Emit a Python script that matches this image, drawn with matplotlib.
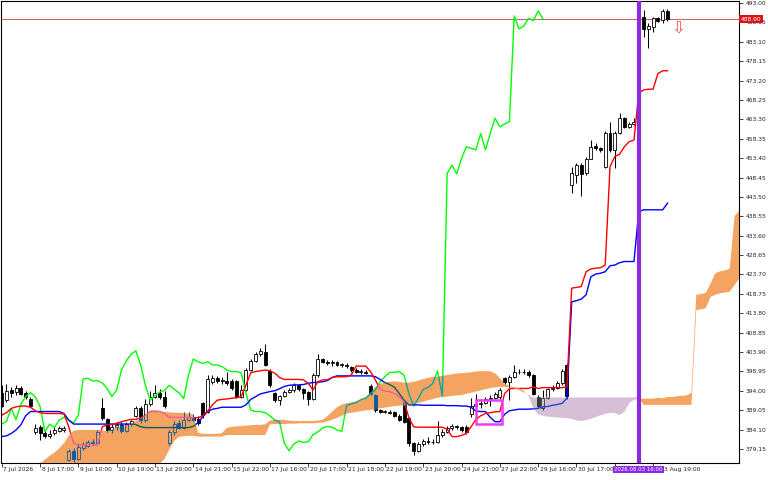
import numpy as np
import matplotlib
matplotlib.use("Agg")
import matplotlib.pyplot as plt
import matplotlib.transforms as mtransforms
from matplotlib.path import Path
from matplotlib.patches import PathPatch, Rectangle

plt.rcParams['font.family'] = ['DejaVu Sans']

# ---------------- data ----------------
opens = [393.4, 391.6, 394.3, 393.6, 394.6, 393.4, 392.0, 383.6, 384.8, 383.3,
         382.5, 383.1, 383.8, 384.0, 376.4, 378.5, 376.6, 379.5, 380.0, 380.6,
         380.6, 389.5, 386.7, 384.0, 384.8, 385.2, 383.8, 385.5, 387.5, 389.5,
         386.6, 390.5, 392.5, 393.5, 392.5, 380.6, 383.5, 385.8, 384.6, 386.5,
         387.4, 386.8, 390.8, 388.7, 396.3, 397.2, 396.5, 396.6, 396.4, 396.5,
         392.5, 394.2, 399.3, 401.6, 403.3, 404.0, 399.0, 393.5, 391.6, 392.7,
         393.7, 394.1, 395.4, 394.4, 393.6, 392.0, 398.0, 402.1, 401.4, 401.0,
         401.4, 400.6, 400.6, 400.0, 399.3, 398.9, 398.9, 395.2, 393.0, 389.1,
         388.7, 388.7, 388.6, 387.6, 391.2, 387.0, 380.6, 378.7, 380.4, 381.2,
         380.8, 381.0, 382.6, 383.5, 384.5, 384.9, 384.7, 384.8, 388.0, 390.2,
         390.7, 391.0, 391.8, 392.1, 392.4, 397.2, 396.3, 397.6, 398.7, 398.7,
         398.9, 398.0, 392.5, 389.6, 392.1, 394.4, 394.8, 395.9, 400.5, 446.5,
         449.1, 451.6, 449.5, 453.3, 456.6, 455.9, 451.2, 459.7, 455.5, 459.7,
         463.6, 461.3, 462.1, 462.7, 489.5, 486.3, 487.0, 489.1, 488.7, 491.0]
highs = [395.5, 395.7, 395.0, 395.5, 395.2, 394.0, 392.5, 385.5, 385.3, 384.0,
         384.0, 385.0, 385.0, 385.0, 379.2, 379.5, 380.5, 381.0, 381.5, 381.6,
         384.0, 392.1, 387.0, 385.5, 386.0, 386.0, 386.0, 386.5, 390.2, 390.0,
         392.0, 394.0, 395.5, 394.5, 394.0, 384.0, 386.3, 386.5, 388.5, 388.5,
         388.0, 387.5, 391.2, 398.0, 398.0, 397.8, 397.5, 398.8, 397.0, 396.8,
         395.5, 399.8, 402.0, 403.8, 405.0, 405.9, 399.5, 393.8, 393.0, 394.3,
         394.8, 395.9, 395.7, 394.7, 394.0, 398.5, 403.4, 402.3, 401.8, 401.9,
         401.6, 401.0, 401.0, 400.3, 399.8, 399.5, 399.3, 395.7, 393.3, 389.4,
         389.2, 389.0, 388.8, 388.0, 391.6, 387.3, 381.0, 380.9, 381.7, 382.2,
         381.6, 386.4, 384.2, 385.0, 385.5, 385.3, 385.0, 385.2, 392.1, 393.3,
         391.8, 392.5, 392.8, 393.8, 394.6, 397.6, 397.9, 400.6, 399.5, 399.6,
         399.2, 398.3, 392.8, 394.3, 394.8, 395.5, 396.5, 399.6, 401.2, 451.2,
         452.1, 452.1, 453.8, 458.0, 457.2, 456.3, 460.2, 462.7, 460.2, 464.8,
         464.0, 462.7, 463.6, 490.5, 491.2, 487.8, 489.5, 489.5, 491.4, 491.4]
lows = [389.8, 391.2, 392.5, 393.0, 392.8, 392.0, 389.8, 383.0, 381.4, 382.0,
        382.0, 382.8, 383.5, 383.6, 376.0, 375.8, 376.3, 379.0, 379.6, 380.2,
        380.3, 386.5, 383.5, 383.3, 384.0, 383.3, 383.5, 384.9, 387.2, 385.8,
        386.0, 390.2, 392.2, 392.0, 389.6, 380.2, 382.8, 384.3, 384.3, 386.2,
        386.2, 385.3, 387.0, 388.2, 395.8, 396.0, 395.8, 395.5, 394.2, 392.2,
        392.2, 394.0, 399.0, 401.3, 403.0, 400.2, 395.0, 391.2, 390.4, 392.3,
        393.4, 393.8, 394.0, 392.0, 390.4, 391.7, 397.6, 401.0, 400.6, 400.3,
        400.2, 400.0, 399.8, 398.9, 398.5, 398.4, 398.2, 393.0, 388.7, 388.3,
        388.3, 388.0, 387.2, 386.2, 385.8, 380.0, 377.6, 378.3, 380.0, 380.4,
        380.4, 380.7, 382.2, 383.1, 384.1, 384.3, 383.6, 383.0, 387.3, 389.5,
        389.5, 390.6, 390.0, 391.8, 392.0, 395.8, 391.6, 397.3, 398.2, 398.4,
        397.6, 392.8, 389.6, 389.1, 391.8, 394.0, 394.5, 395.6, 391.8, 444.4,
        447.0, 443.6, 449.1, 453.1, 455.5, 455.0, 450.8, 455.0, 450.8, 459.6,
        461.0, 461.0, 461.9, 462.0, 484.4, 481.4, 485.7, 488.2, 488.0, 488.5]
closes = [390.1, 394.0, 393.5, 394.6, 393.3, 392.5, 390.1, 384.6, 383.1, 382.5,
          383.0, 384.0, 384.4, 384.4, 378.6, 376.6, 379.7, 380.3, 380.8, 381.0,
          383.5, 387.0, 384.0, 384.8, 385.2, 383.8, 385.5, 386.2, 389.5, 386.6,
          390.5, 392.5, 393.5, 392.5, 390.0, 383.5, 385.5, 384.6, 386.5, 387.2,
          386.6, 385.8, 387.7, 397.0, 397.2, 396.5, 396.6, 396.0, 394.6, 392.5,
          394.2, 399.3, 401.6, 403.3, 404.2, 400.6, 395.4, 391.6, 392.7, 393.7,
          394.1, 395.4, 394.4, 393.5, 392.0, 398.0, 402.1, 401.4, 401.0, 401.4,
          400.6, 400.6, 400.2, 399.3, 398.9, 398.9, 398.6, 393.3, 389.1, 388.7,
          388.7, 388.4, 387.6, 386.5, 386.1, 380.6, 378.7, 380.4, 381.2, 380.8,
          381.0, 382.8, 383.5, 384.5, 384.9, 384.7, 384.0, 383.6, 390.2, 390.7,
          391.0, 391.8, 392.1, 393.2, 394.2, 396.3, 397.6, 398.7, 398.7, 398.9,
          398.0, 393.3, 390.1, 392.1, 394.4, 394.8, 395.9, 399.1, 392.7, 449.5,
          451.6, 449.4, 453.3, 456.3, 455.9, 455.5, 459.7, 455.5, 459.7, 463.6,
          461.4, 462.1, 462.7, 489.7, 486.4, 487.1, 489.1, 488.5, 491.0, 488.9]

tenkan = [387.8, 388.4, 389.5, 389.9, 390.1, 390.1, 389.8, 388.9, 388.4, 388.2,
          388.2, 388.2, 388.2, 388.1, 384.8, 380.6, 380.2, 380.2, 380.2, 380.2,
          380.2, 384.8, 385.3, 385.4, 385.7, 386.1, 386.4, 386.7, 386.7, 387.1,
          387.7, 388.7, 388.7, 388.7, 388.2, 387.2, 387.2, 387.2, 387.2, 387.2,
          387.1, 387.1, 387.6, 388.8, 390.4, 391.6, 391.8, 391.9, 392.1, 392.2,
          392.5, 395.5, 398.6, 398.9, 399.1, 399.3, 399.1, 398.5, 397.4, 396.9,
          396.9, 396.9, 396.9, 396.8, 395.9, 394.2, 396.3, 396.8, 396.8, 397.4,
          397.6, 397.6, 397.6, 398.0, 400.3, 400.3, 400.3, 398.9, 396.8, 394.4,
          393.9, 393.8, 393.3, 392.5, 391.2, 387.2, 384.8, 384.7, 384.7, 384.7,
          384.7, 384.7, 384.7, 384.2, 382.3, 382.3, 382.6, 383.1, 384.8, 386.7,
          387.6, 388.2, 388.4, 388.6, 388.7, 393.3, 394.5, 394.6, 394.6, 394.6,
          394.6, 395.0, 394.6, 394.8, 394.8, 394.8, 394.8, 394.8, 395.0, 420.2,
          420.4, 420.6, 424.4, 425.1, 425.3, 425.4, 426.1, 451.2, 453.8, 454.4,
          456.3, 457.6, 458.0, 470.0, 470.8, 471.0, 471.0, 475.0, 475.7, 475.7]
kijun = [382.3, 382.5, 383.1, 384.0, 385.3, 387.6, 388.7, 388.7, 388.7, 388.7,
         388.7, 388.7, 388.7, 388.2, 386.5, 385.5, 385.5, 385.5, 385.5, 385.5,
         385.5, 385.5, 385.5, 385.5, 385.5, 385.5, 385.5, 385.5, 385.4, 384.8,
         384.6, 384.6, 384.6, 384.6, 384.6, 384.6, 384.6, 384.6, 384.6, 384.6,
         384.9, 385.9, 387.4, 388.7, 389.3, 389.5, 389.8, 389.8, 389.8, 389.8,
         389.8, 390.4, 391.8, 392.5, 393.2, 393.5, 393.8, 394.0, 394.5, 395.1,
         395.4, 395.5, 395.5, 395.6, 395.9, 396.1, 396.2, 396.3, 396.6, 397.4,
         397.8, 397.8, 397.8, 397.8, 397.8, 397.8, 397.8, 397.8, 397.6, 396.9,
         396.1, 395.6, 394.9, 393.3, 391.6, 390.4, 390.4, 390.4, 390.3, 390.3,
         390.3, 390.3, 390.3, 390.2, 390.2, 390.2, 390.1, 390.1, 389.8, 388.8,
         388.7, 388.7, 387.2, 386.1, 386.1, 388.0, 388.9, 389.1, 389.3, 389.3,
         389.3, 389.4, 389.5, 389.9, 390.0, 390.3, 390.5, 390.8, 392.1, 416.7,
         417.0, 417.4, 418.5, 423.1, 423.8, 424.0, 424.4, 425.9, 426.1, 426.7,
         427.0, 427.0, 427.0, 439.7, 440.2, 440.2, 440.2, 440.2, 440.2, 441.9]
span_a = [370.0, 370.5, 371.0, 371.5, 372.0, 372.5, 373.5, 374.5, 375.4, 376.4,
          377.4, 378.2, 379.3, 380.6, 382.6, 383.8, 384.0, 384.0, 384.0, 384.0,
          384.0, 383.9, 383.7, 384.1, 384.7, 385.0, 385.1, 385.5, 386.3, 387.0,
          387.7, 389.0, 389.1, 388.8, 388.6, 388.5, 388.4, 388.4, 388.3, 388.2,
          387.9, 383.3, 383.0, 383.0, 383.0, 383.0, 383.2, 384.5, 384.8, 384.9,
          385.0, 385.1, 385.2, 385.3, 385.3, 385.4, 386.4, 386.6, 386.6, 386.6,
          386.4, 386.3, 386.3, 386.3, 386.3, 386.3, 386.4, 386.6, 387.5, 388.7,
          389.8, 390.5, 390.8, 391.0, 391.3, 391.8, 392.4, 393.5, 395.0, 395.8,
          396.1, 396.3, 396.4, 396.3, 396.1, 396.1, 396.3, 396.6, 397.0, 397.3,
          397.5, 397.6, 397.8, 398.0, 398.2, 398.4, 398.5, 398.6, 398.7, 398.9,
          399.0, 399.0, 399.0, 398.4, 397.3, 395.8, 395.2, 394.9, 394.6, 394.0,
          392.6, 389.5, 388.0, 387.6, 387.4, 387.3, 387.2, 387.1, 387.0, 386.8,
          386.4, 386.3, 386.5, 386.8, 387.3, 387.7, 388.1, 388.4, 388.3, 387.8,
          388.6, 390.8, 391.7, 391.9, 392.0, 392.0, 392.0, 392.2, 392.1, 392.4,
          392.4, 392.6, 392.7, 392.8, 393.5, 418.5, 418.7, 419.0, 421.4, 424.0,
          424.5, 424.7, 425.2, 438.6, 440.0]
span_b = [366.0, 366.2, 366.4, 366.6, 366.8, 367.0, 367.2, 367.4, 367.6, 367.8,
          368.0, 368.2, 368.4, 368.6, 368.8, 369.0, 369.2, 369.4, 369.6, 369.8,
          370.0, 370.3, 370.6, 370.9, 371.2, 371.5, 371.8, 372.2, 372.6, 373.0,
          373.5, 374.0, 374.6, 375.4, 376.6, 379.0, 381.2, 382.2, 382.4, 382.5,
          382.5, 382.3, 382.3, 382.3, 382.3, 382.3, 382.3, 382.7, 382.7, 382.7,
          382.7, 382.7, 382.7, 382.7, 382.7, 382.7, 385.4, 385.5, 385.5, 385.5,
          385.6, 385.6, 385.7, 385.7, 385.7, 385.7, 385.8, 385.9, 386.2, 386.6,
          387.1, 387.6, 388.2, 388.4, 388.6, 388.8, 389.0, 389.1, 389.2, 389.5,
          389.7, 389.9, 390.1, 390.2, 390.3, 390.4, 390.6, 390.9, 391.2, 391.6,
          391.9, 392.2, 392.4, 392.5, 392.7, 392.8, 392.9, 393.2, 393.5, 393.8,
          394.1, 394.4, 394.7, 394.9, 395.0, 395.0, 394.9, 394.6, 394.2, 393.6,
          392.9, 392.3, 392.3, 392.3, 392.3, 392.3, 392.3, 392.3, 392.3, 392.3,
          392.3, 392.3, 392.3, 392.3, 392.3, 392.3, 392.3, 392.3, 392.3, 392.3,
          392.3, 392.3, 392.3, 392.3, 390.4, 390.4, 390.4, 390.4, 390.4, 390.4,
          390.4, 390.4, 390.4, 390.4, 390.4, 414.6, 414.8, 415.1, 418.0, 418.5,
          418.9, 419.1, 419.3, 421.0, 422.7]

chikou_shift = 26
xtick_bars = [0, 8, 16, 24, 32, 40, 48, 56, 64, 72, 80, 88, 96, 104, 112, 120, 128, 136]
# the label of bar 128 is hidden behind the marker's date box in the reference
xtick_labels = ["7 Jul 2026", "8 Jul 17:00", "9 Jul 10:00", "10 Jul 19:00", "13 Jul 20:00",
                "14 Jul 21:00", "15 Jul 22:00", "17 Jul 16:00", "20 Jul 17:00", "21 Jul 18:00",
                "22 Jul 19:00", "23 Jul 20:00", "24 Jul 21:00", "27 Jul 22:00", "29 Jul 16:00",
                "30 Jul 17:00", "", "3 Aug 19:00"]
ytick_values = [493.00, 488.05, 483.10, 478.15, 473.20, 468.25, 463.30, 458.35, 453.40,
                448.45, 443.50, 438.55, 433.60, 428.65, 423.70, 418.75, 413.80, 408.85,
                403.90, 398.95, 394.00, 389.05, 384.10, 379.15]
last_price = 488.90
vline_bar = 133
vline_label = "2026.08.03 16:00"
box_bars = [99.0, 104.4]
box_prices = [385.5, 391.65]
arrow_bar = 141.2
arrow_price = 486.6

# ---------------- styling ----------------
FS = 4.3
FS_BOX = 3.9
TXT = '#222222'
CLOUD_UP = '#f4a460'
CLOUD_DN = '#d8bfd8'
BASE = {'bull': '#ffffff', 'bear': '#000000', 'edge': '#000000',
        'tenkan': '#ff0000', 'kijun': '#0000ff', 'chikou': '#00ff00'}


def xor_palette(cloud_hex):
    c = [int(cloud_hex[i:i + 2], 16) for i in (1, 3, 5)]
    key = [255 - v for v in c]

    def f(hx):
        r, g, b = (int(hx[i:i + 2], 16) for i in (1, 3, 5))
        return '#%02x%02x%02x' % (r ^ key[0], g ^ key[1], b ^ key[2])
    return {k: f(v) for k, v in BASE.items()}


fig = plt.figure(figsize=(7.68, 4.8), dpi=100)
ax = fig.add_axes([0.5 / 768, 17 / 480, 738.5 / 768, 462.5 / 480])
ax.set_facecolor('white')

o = np.array(opens); h = np.array(highs); l = np.array(lows); c = np.array(closes)
x = np.arange(len(c))


def draw_layer(pal, z, clip=None):
    arts = []
    wk = ax.vlines(x, l, h, colors=pal['edge'], lw=0.75, zorder=z)
    arts.append(wk)
    bottoms = np.minimum(o, c)
    heights = np.maximum(np.abs(c - o), 0.15)
    face = [pal['bull'] if cc >= oo else pal['bear'] for oo, cc in zip(o, c)]
    bars = ax.bar(x, heights, bottom=bottoms, width=0.62, color=face,
                  edgecolor=pal['edge'], linewidth=0.6, zorder=z + 0.1)
    arts.extend(list(bars))
    l3, = ax.plot(x[:len(c) - chikou_shift], c[chikou_shift:], color=pal['chikou'], lw=1.0, zorder=z + 0.2)
    l2, = ax.plot(x, kijun, color=pal['kijun'], lw=1.0, zorder=z + 0.3)
    l1, = ax.plot(x, tenkan, color=pal['tenkan'], lw=1.0, zorder=z + 0.4)
    arts += [l1, l2, l3]
    if clip is not None:
        for a in arts:
            a.set_clip_path(clip)


# normal layer
draw_layer(BASE, 2)
ax.axhline(last_price, color='#d25a5a', lw=0.7, zorder=1.5)

# cloud
k = np.arange(len(span_a))
A = np.array(span_a); B = np.array(span_b)
up = ax.fill_between(k, A, B, where=A >= B, interpolate=True, facecolor=CLOUD_UP,
                     edgecolor='none', linewidth=0, zorder=5)
dn = ax.fill_between(k, A, B, where=A < B, interpolate=True, facecolor=CLOUD_DN,
                     edgecolor='none', linewidth=0, zorder=5)


def clip_of(coll):
    paths = [p for p in coll.get_paths() if len(p.vertices) > 2]
    comp = Path.make_compound_path(*paths)
    return PathPatch(comp, transform=ax.transData)


# elements inside the cloud appear colour-inverted against the fill (XOR drawing)
draw_layer(xor_palette(CLOUD_UP), 6, clip_of(up))
draw_layer(xor_palette(CLOUD_DN), 6, clip_of(dn))

# chart objects
ax.add_patch(Rectangle((box_bars[0], box_prices[0]), box_bars[1] - box_bars[0],
                       box_prices[1] - box_prices[0], fill=False, ec='#f03cf0', lw=1.8, zorder=9))
ax.axvline(vline_bar, color='#8a2be2', lw=3.0, zorder=10)
ax.text(arrow_bar, arrow_price, '\u21e9', color='#ff5050', fontsize=12, ha='center',
        va='center', zorder=11)

ax.set_xlim(-0.25, 153.93)
ax.set_ylim(375.56, 493.64)

for s in ax.spines.values():
    s.set_color('#000000'); s.set_linewidth(0.8)

ax.yaxis.tick_right()
ax.set_yticks(ytick_values)
ax.set_yticklabels(['%.2f' % v for v in ytick_values])
ax.tick_params(axis='y', direction='out', length=3, width=0.6, pad=1.5, labelsize=FS,
               colors=TXT, right=True, left=False)
ax.set_xticks(xtick_bars)
ax.set_xticklabels([])
ax.tick_params(axis='x', direction='out', length=3, width=0.6, colors=TXT)

px = lambda v: v / 100.0
blend = mtransforms.blended_transform_factory(ax.transData, ax.transAxes)
for b, lab in zip(xtick_bars, xtick_labels):
    if not lab:
        continue
    # the last label sits just right of the marker's date box
    dx = 11 if b == xtick_bars[-1] else 1.5
    tr = blend + mtransforms.ScaledTranslation(px(dx), px(-4), fig.dpi_scale_trans)
    ax.text(b, 0, lab, transform=tr, ha='left', va='top', fontsize=FS,
            color=TXT, clip_on=False, zorder=4)

trans_v = blend + mtransforms.ScaledTranslation(0, px(-4), fig.dpi_scale_trans)
ax.text(vline_bar, 0, vline_label, transform=trans_v, ha='center', va='top', fontsize=FS_BOX,
        color='white', clip_on=False, zorder=20,
        bbox=dict(boxstyle='square,pad=0.25', fc='#8a2be2', ec='none'))

trans_p = mtransforms.blended_transform_factory(ax.transAxes, ax.transData) + \
    mtransforms.ScaledTranslation(px(2.0), 0, fig.dpi_scale_trans)
ax.text(1.0, last_price, '%.2f' % last_price, transform=trans_p, ha='left', va='center',
        fontsize=FS, color='white', clip_on=False, zorder=20,
        bbox=dict(boxstyle='square,pad=0.3', fc='#e0101a', ec='none'))

fig.savefig('out.png', dpi=100)
